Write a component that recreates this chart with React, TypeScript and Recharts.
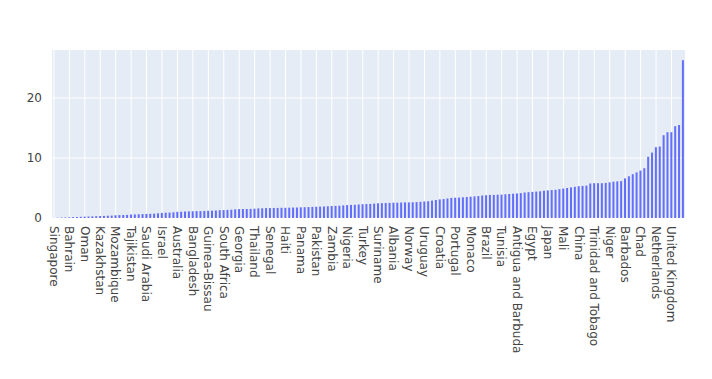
import { BarChart, Bar, XAxis, YAxis, CartesianGrid } from 'recharts';

const countries = [
  "Singapore", "Qatar", "Kuwait", "Brunei",
  "Bahrain", "United Arab Emirates", "Malaysia", "Iran",
  "Oman", "Iraq", "Jordan", "Libya",
  "Kazakhstan", "Algeria", "Turkmenistan", "Uzbekistan",
  "Mozambique", "Kyrgyzstan", "Mongolia", "Russia",
  "Tajikistan", "Azerbaijan", "Armenia", "Belarus",
  "Saudi Arabia", "Ukraine", "Moldova", "Romania",
  "Israel", "Bulgaria", "Serbia", "Bosnia and Herzegovina",
  "Australia", "Montenegro", "North Macedonia", "Greece",
  "Bangladesh", "Cyprus", "Malta", "Italy",
  "Guinea-Bissau", "Spain", "France", "Germany",
  "South Africa", "Belgium", "Luxembourg", "Switzerland",
  "Georgia", "Austria", "Czechia", "Slovakia",
  "Thailand", "Hungary", "Poland", "Lithuania",
  "Senegal", "Latvia", "Estonia", "Finland",
  "Haiti", "Sweden", "Denmark", "Iceland",
  "Panama", "Ireland", "Canada", "United States",
  "Pakistan", "Mexico", "Guatemala", "Honduras",
  "Zambia", "El Salvador", "Nicaragua", "Costa Rica",
  "Nigeria", "Cuba", "Jamaica", "Dominican Republic",
  "Turkey", "Bahamas", "Belize", "Colombia",
  "Suriname", "Venezuela", "Ecuador", "Peru",
  "Albania", "Bolivia", "Paraguay", "Chile",
  "Norway", "Argentina", "Guyana", "Morocco",
  "Uruguay", "Mauritania", "Sudan", "Ethiopia",
  "Croatia", "Eritrea", "Somalia", "Kenya",
  "Portugal", "Uganda", "Rwanda", "Burundi",
  "Monaco", "Tanzania", "Malawi", "Zimbabwe",
  "Brazil", "Botswana", "Namibia", "Angola",
  "Tunisia", "Lesotho", "Eswatini", "Madagascar",
  "Antigua and Barbuda", "Mauritius", "Comoros", "Seychelles",
  "Egypt", "Cameroon", "Gabon", "Congo",
  "Japan", "DR Congo", "Central African Republic", "Equatorial Guinea",
  "Mali", "Ghana", "Togo", "Benin",
  "China", "Burkina Faso", "Ivory Coast", "Liberia",
  "Trinidad and Tobago", "Sierra Leone", "Guinea", "Gambia",
  "Niger", "Cape Verde", "India", "Sri Lanka",
  "Barbados", "Nepal", "Bhutan", "Myanmar",
  "Chad", "Laos", "Cambodia", "Vietnam",
  "Netherlands", "Indonesia", "Philippines", "South Korea",
  "United Kingdom", "New Zealand", "Fiji", "Slovenia",
];

const values = [
  0.02, 0.05, 0.08, 0.1,
  0.12, 0.15, 0.17, 0.2,
  0.22, 0.25, 0.27, 0.3,
  0.33, 0.35, 0.38, 0.4,
  0.45, 0.48, 0.5, 0.52,
  0.58, 0.6, 0.62, 0.65,
  0.68, 0.7, 0.72, 0.78,
  0.85, 0.88, 0.9, 0.95,
  1.02, 1.05, 1.08, 1.1,
  1.12, 1.15, 1.15, 1.18,
  1.2, 1.22, 1.25, 1.3,
  1.32, 1.35, 1.38, 1.45,
  1.48, 1.5, 1.5, 1.52,
  1.55, 1.6, 1.62, 1.65,
  1.65, 1.66, 1.68, 1.7,
  1.7, 1.72, 1.74, 1.75,
  1.78, 1.8, 1.82, 1.85,
  1.88, 1.9, 1.92, 1.95,
  2.0, 2.02, 2.05, 2.1,
  2.15, 2.18, 2.2, 2.25,
  2.3, 2.32, 2.35, 2.4,
  2.45, 2.48, 2.5, 2.52,
  2.55, 2.55, 2.58, 2.6,
  2.6, 2.62, 2.65, 2.7,
  2.75, 2.8, 2.9, 3.0,
  3.1, 3.15, 3.25, 3.35,
  3.38, 3.4, 3.45, 3.5,
  3.55, 3.6, 3.65, 3.75,
  3.8, 3.85, 3.85, 3.88,
  3.9, 3.95, 4.0, 4.05,
  4.1, 4.15, 4.25, 4.3,
  4.35, 4.4, 4.45, 4.55,
  4.6, 4.65, 4.7, 4.8,
  4.9, 5.0, 5.1, 5.2,
  5.3, 5.35, 5.4, 5.75,
  5.8, 5.8, 5.8, 5.85,
  5.95, 6.05, 6.1, 6.15,
  6.6, 6.95, 7.3, 7.6,
  7.9, 8.3, 10.2, 10.9,
  11.8, 11.9, 13.8, 14.3,
  14.3, 15.3, 15.5, 26.3,
];

const yTicks = [0, 10, 20];

const data = countries.map((name, i) => ({ name, value: values[i] }));

const FONT = '"DejaVu Sans", verdana, arial, sans-serif';
const TEXT = '#444';

function XTick(props: any) {
  const { x, y, payload } = props;
  return (
    <g transform={`translate(${x},${y})`}>
      <text
        transform="rotate(90)"
        x={0}
        y={0}
        dy="0.35em"
        textAnchor="start"
        fill={TEXT}
        fontSize={12}
        fontFamily={FONT}
      >
        {payload.value}
      </text>
    </g>
  );
}

export default function App() {
  return (
    <div style={{ position: 'absolute', left: 0, top: 0, background: '#fff' }}>
      <BarChart
        width={712}
        height={379}
        data={data}
        margin={{ top: 50, right: 27, bottom: 11, left: 0 }}
        barCategoryGap="20%"
      >
        <CartesianGrid stroke="#ffffff" strokeWidth={1} fill="#E5ECF6" fillOpacity={1} syncWithTicks />
        <XAxis
          dataKey="name"
          interval={3}
          tickLine={false}
          axisLine={false}
          height={150}
          tick={<XTick />}
          tickSize={0}
          tickMargin={8}
        />
        <YAxis
          width={52}
          domain={[0, 28]}
          ticks={yTicks}
          tickLine={false}
          axisLine={false}
          tick={{ fill: TEXT, fontSize: 12, fontFamily: FONT }}
          tickMargin={4}
        />
        <Bar dataKey="value" fill="#636EFA" isAnimationActive={false} />
      </BarChart>
    </div>
  );
}
